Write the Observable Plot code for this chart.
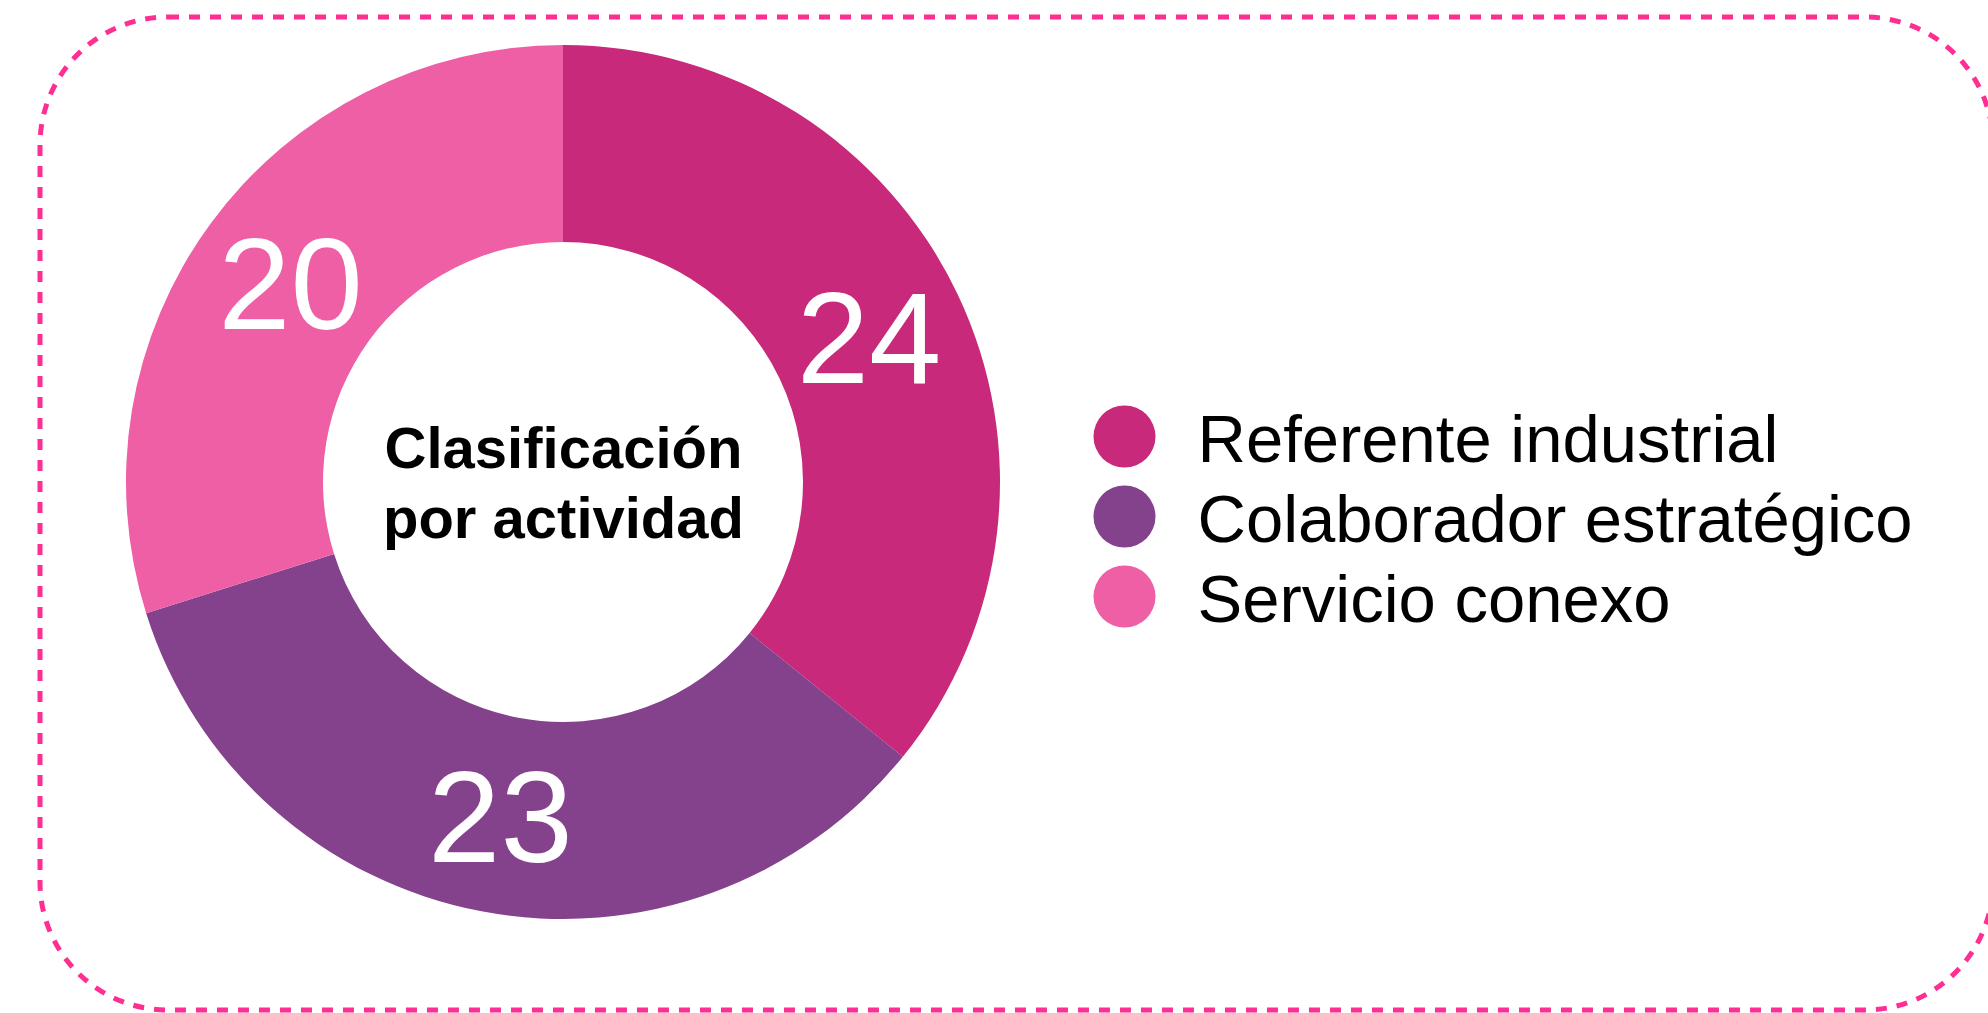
<!DOCTYPE html>
<html><head><meta charset="utf-8">
<script src="https://cdn.jsdelivr.net/npm/d3@7"></script>
<script src="https://cdn.jsdelivr.net/npm/@observablehq/plot@0.6"></script>
<style>html,body{margin:0;padding:0;background:#fff;overflow:hidden} #chart svg{display:block}</style>
</head><body><div id="chart"></div>
<script>
// ---- data ----
const categories = ["Referente industrial", "Colaborador estratégico", "Servicio conexo"];
const values = [24, 23, 20];
const colors = ["#C8297A", "#84418C", "#EE5FA6"];
const centerTitle = ["Clasificación", "por actividad"];

// ---- layout ----
const W = 1988, H = 1013;
const cx = 563, cy = 482, rOuter = 437, rInner = 240;
const legendX = 1124, legendTextX = 1197, legendY0 = 436, legendStep = 80;
const FONT = "'Liberation Sans', Arial, Helvetica, sans-serif";

const data = categories.map((c, i) => ({category: c, value: values[i]}));
const pieLayout = d3.pie().value(d => d.value).sort(null)(data);
const arcGen = d3.arc().innerRadius(rInner).outerRadius(rOuter);
const slices = pieLayout.map(p => {
  const [dx, dy] = arcGen.centroid(p);
  return {...p.data, startAngle: p.startAngle, endAngle: p.endAngle, padAngle: 0, lx: cx + dx, ly: cy + dy};
});

function getScales(args) {
  return args.find(a => a && typeof a === "object" && !Array.isArray(a) && (typeof a.x === "function" || typeof a.color === "function")) || {};
}

function borderMark(...args) {
  const s = getScales(args);
  const sx = s.x || (v => v), sy = s.y || (v => v);
  const x1 = sx(40), x2 = sx(1993), y1 = sy(17), y2 = sy(1010);
  return d3.create("svg:rect")
    .attr("x", x1).attr("y", y1)
    .attr("width", x2 - x1).attr("height", y2 - y1)
    .attr("rx", 128).attr("ry", 128)
    .attr("fill", "none")
    .attr("stroke", "#FF2E92")
    .attr("stroke-width", 5)
    .attr("stroke-dasharray", "11 10")
    .node();
}

function donutMark(...args) {
  const s = getScales(args);
  const sx = s.x || (v => v), sy = s.y || (v => v);
  const color = s.color || (c => colors[categories.indexOf(c)]);
  const g = d3.create("svg:g").attr("transform", `translate(${sx(cx)},${sy(cy)})`);
  g.selectAll("path").data(slices).join("path")
    .attr("d", d => arcGen(d))
    .attr("fill", d => color(d.category));
  return g.node();
}

const chart = Plot.plot({
  width: W, height: H, margin: 0,
  x: {domain: [0, W], range: [0, W], axis: null},
  y: {domain: [0, H], range: [0, H], axis: null},
  color: {domain: categories, range: colors},
  style: {fontFamily: FONT, background: "white"},
  marks: [
    borderMark,
    donutMark,
    Plot.text(slices, {x: "lx", y: "ly", text: d => String(d.value), fill: "white", fontSize: 130, dy: 5, fontFamily: FONT}),
    Plot.text([centerTitle.join("\n")], {x: cx, y: cy - 2, text: d => d, fontSize: 58, fontWeight: "bold", lineHeight: 1.2, fill: "black", fontFamily: FONT}),
    Plot.dot(categories, {x: legendX, y: (d, i) => legendY0 + legendStep * i, r: 31, fill: d => d}),
    Plot.text(categories, {x: legendTextX, y: (d, i) => legendY0 + legendStep * i, text: d => d, textAnchor: "start", fontSize: 67, dy: 4, fill: "black", fontFamily: FONT})
  ]
});
document.getElementById("chart").appendChild(chart);
</script>
</body></html>
